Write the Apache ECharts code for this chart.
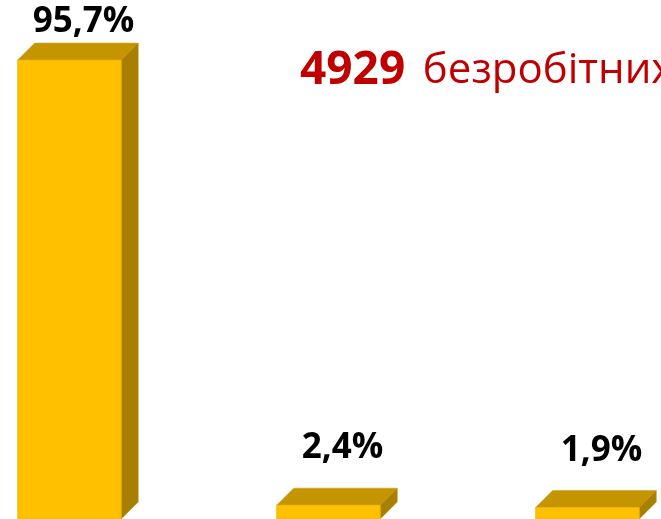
<!DOCTYPE html>
<html>
<head>
<meta charset="utf-8">
<script src="https://cdn.jsdelivr.net/npm/echarts@6/dist/echarts.min.js"></script>
<style>
  html, body { margin: 0; padding: 0; background: #fff; }
  #container { width: 661px; height: 519px; }
</style>
</head>
<body>
<div id="container"></div>
<script>
// data
var categories = ['Група 1', 'Група 2', 'Група 3'];
var values = [95.7, 2.4, 1.9];
var labels = ['95,7%', '2,4%', '1,9%'];
var totalCount = '4929';
var totalText = 'безробітних';

var dom = document.getElementById('container');
var myChart = echarts.init(dom);

var yMin = -0.5;
var depth = 17;

function renderBar(params, api) {
    var idx = api.value(0);
    var v = api.value(1);
    var top = api.coord([idx, v]);
    var base = api.coord([idx, yMin]);
    var bw = api.size([1, 0])[0] * 0.4;
    var l = top[0] - bw / 2, r = top[0] + bw / 2;
    var ty = top[1], by = base[1];
    var labelY = Math.max(ty - depth - 40, 22);
    return {
        type: 'group',
        children: [
            {
                type: 'polygon',
                shape: { points: [[l, ty], [l + depth, ty - depth], [r + depth, ty - depth], [r, ty]] },
                style: { fill: '#C49500', stroke: '#D2A41A', lineWidth: 0.6 }
            },
            {
                type: 'polygon',
                shape: { points: [[r, ty], [r + depth, ty - depth], [r + depth, by - depth], [r, by]] },
                style: { fill: '#A87F00', stroke: '#B88E10', lineWidth: 0.6 }
            },
            {
                type: 'rect',
                shape: { x: l, y: ty, width: bw, height: by - ty },
                style: { fill: '#FFC000', stroke: '#E8AE00', lineWidth: 0.6 }
            },
            {
                type: 'text',
                style: {
                    text: labels[params.dataIndex],
                    x: top[0] + 14,
                    y: labelY,
                    align: 'center',
                    verticalAlign: 'middle',
                    fill: '#000',
                    font: 'bold 35px "Open Sans", "Noto Sans", sans-serif'
                }
            }
        ]
    };
}

var option = {
    animation: false,
    grid: { left: 0, right: 0, top: 0, bottom: 0 },
    xAxis: {
        type: 'value',
        min: -0.268,
        max: 2.284,
        show: false
    },
    yAxis: {
        type: 'value',
        min: yMin,
        max: 108.3,
        show: false
    },
    graphic: [
        {
            type: 'text',
            left: 300,
            top: 37,
            style: {
                text: '{b|' + totalCount + '}{s| }{r|' + totalText + '}',
                rich: {
                    b: { fill: '#C00000', font: 'bold 46px "Open Sans", "Noto Sans", sans-serif' },
                    s: { font: '68px "Open Sans", "Noto Sans", sans-serif' },
                    r: { fill: '#C00000', font: '42px "Open Sans", "Noto Sans", sans-serif' }
                }
            }
        }
    ],
    series: [
        {
            type: 'custom',
            clip: false,
            renderItem: renderBar,
            data: values.map(function (v, i) { return [i, v]; })
        }
    ]
};

myChart.setOption(option, true);
</script>
</body>
</html>
